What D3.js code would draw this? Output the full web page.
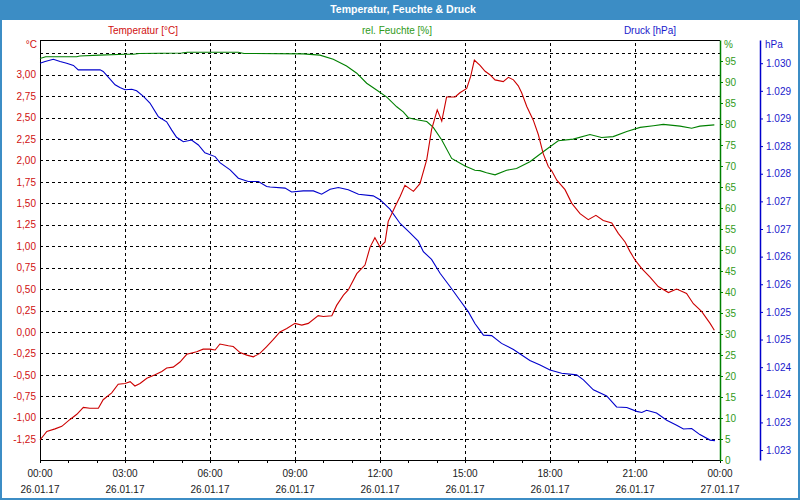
<!DOCTYPE html>
<html>
<head>
<meta charset="utf-8">
<script src="https://cdn.jsdelivr.net/npm/d3@7"></script>
<style>
  html, body { margin: 0; padding: 0; background: #fff; }
  svg { display: block; font-family: "Liberation Sans", Arial, sans-serif; }
</style>
</head>
<body>
<svg id="chart" width="800" height="500"></svg>
<script>
// ---------- data ----------
const chartTitle = "Temperatur, Feuchte & Druck";
const seriesNames = ["Temperatur [°C]", "rel. Feuchte [%]", "Druck [hPa]"];

// [hour since 26.01.17 00:00, °C]
const temperature = [
  [0.00,-1.26],[0.24,-1.16],[0.53,-1.13],[0.77,-1.10],[1.06,-1.02],[1.30,-0.96],[1.53,-0.88],
  [1.76,-0.89],[2.06,-0.89],[2.23,-0.79],[2.53,-0.71],[2.76,-0.61],[3.00,-0.60],[3.18,-0.58],
  [3.35,-0.63],[3.53,-0.60],[3.77,-0.54],[4.06,-0.50],[4.30,-0.46],[4.47,-0.42],[4.70,-0.41],
  [4.94,-0.35],[5.18,-0.26],[5.53,-0.23],[5.76,-0.20],[6.00,-0.20],[6.18,-0.21],[6.35,-0.14],
  [6.65,-0.16],[6.82,-0.17],[7.06,-0.24],[7.30,-0.27],[7.53,-0.29],[7.76,-0.25],[8.00,-0.17],
  [8.23,-0.09],[8.47,0.00],[8.71,0.04],[9.00,0.10],[9.24,0.08],[9.47,0.10],[9.82,0.19],
  [10.00,0.18],[10.30,0.19],[10.47,0.31],[10.71,0.43],[10.88,0.49],[11.18,0.68],[11.47,0.78],
  [11.65,0.99],[11.82,1.10],[12.00,0.99],[12.18,1.05],[12.29,1.29],[12.53,1.46],[12.71,1.58],
  [12.88,1.71],[13.18,1.64],[13.41,1.73],[13.65,2.01],[13.82,2.36],[14.02,2.59],[14.18,2.46],
  [14.35,2.74],[14.65,2.74],[14.82,2.79],[15.06,2.84],[15.20,2.98],[15.33,3.17],[15.53,3.11],
  [15.71,3.04],[15.88,3.00],[16.06,2.94],[16.35,2.92],[16.53,2.97],[16.71,2.94],[16.88,2.87],
  [17.00,2.79],[17.18,2.63],[17.41,2.47],[17.59,2.30],[17.76,2.08],[17.94,1.93],[18.06,1.88],
  [18.24,1.77],[18.53,1.66],[18.77,1.50],[19.06,1.38],[19.35,1.31],[19.62,1.36],[19.88,1.30],
  [20.18,1.27],[20.41,1.15],[20.65,1.05],[20.82,0.94],[21.00,0.84],[21.24,0.74],[21.53,0.64],
  [21.82,0.53],[22.18,0.46],[22.47,0.50],[22.82,0.45],[23.06,0.33],[23.35,0.24],[23.65,0.10],
  [23.80,0.02]
];

// [hour, %]
const humidity = [
  [0.00,95.6],[0.20,96.0],[1.30,96.0],[1.40,96.2],[2.10,96.4],[3.00,96.6],[3.30,96.6],
  [3.50,96.8],[5.00,96.9],[5.20,97.1],[7.00,97.1],[7.20,96.8],[9.29,96.7],[9.88,96.4],
  [10.35,95.4],[10.82,93.8],[11.18,92.1],[11.53,89.7],[11.88,88.1],[12.24,86.4],[12.59,84.1],
  [12.82,82.9],[13.00,81.5],[13.30,81.0],[13.65,80.6],[13.88,79.2],[14.18,76.2],[14.53,71.8],
  [15.00,70.0],[15.35,69.0],[15.53,68.9],[15.76,68.4],[16.06,67.9],[16.47,69.0],[16.82,69.4],
  [17.29,71.0],[17.76,73.4],[18.29,76.0],[18.82,76.4],[19.41,77.5],[19.82,76.8],[20.23,77.0],
  [20.71,78.2],[21.18,79.2],[21.65,79.6],[22.00,79.9],[22.59,79.5],[23.00,79.0],[23.29,79.5],
  [23.80,79.8]
];

// [hour, hPa]
const pressure = [
  [0.00,1030.00],[0.18,1030.03],[0.47,1030.07],[0.71,1030.03],[0.94,1030.00],[1.18,1029.96],
  [1.35,1029.88],[2.12,1029.88],[2.23,1029.85],[2.41,1029.75],[2.65,1029.61],[2.82,1029.56],
  [3.00,1029.52],[3.24,1029.53],[3.41,1029.50],[3.65,1029.40],[3.88,1029.28],[4.18,1029.03],
  [4.47,1028.94],[4.65,1028.79],[4.82,1028.66],[5.06,1028.58],[5.35,1028.61],[5.59,1028.52],
  [5.82,1028.38],[6.18,1028.31],[6.35,1028.20],[6.71,1028.07],[7.00,1027.92],[7.35,1027.86],
  [7.71,1027.86],[8.00,1027.77],[8.12,1027.76],[8.65,1027.74],[8.88,1027.67],[9.29,1027.69],
  [9.65,1027.69],[9.94,1027.63],[10.24,1027.72],[10.53,1027.75],[10.88,1027.71],[11.24,1027.63],
  [11.76,1027.60],[12.00,1027.53],[12.35,1027.36],[12.71,1027.10],[13.06,1026.93],[13.35,1026.78],
  [13.53,1026.59],[13.82,1026.45],[14.12,1026.20],[14.47,1025.96],[14.82,1025.71],[15.12,1025.50],
  [15.35,1025.29],[15.65,1025.08],[15.94,1025.07],[16.29,1024.93],[16.71,1024.82],[17.00,1024.72],
  [17.29,1024.62],[17.65,1024.54],[18.00,1024.45],[18.41,1024.39],[18.94,1024.36],[19.18,1024.27],
  [19.53,1024.09],[20.00,1023.98],[20.35,1023.78],[20.71,1023.77],[21.06,1023.70],[21.24,1023.68],
  [21.41,1023.72],[21.76,1023.67],[22.12,1023.54],[22.47,1023.45],[22.71,1023.38],[23.00,1023.39],
  [23.29,1023.28],[23.65,1023.18],[23.82,1023.17]
];

const timeTickLabels = ["00:00","03:00","06:00","09:00","12:00","15:00","18:00","21:00","00:00"];
const dateTickLabels = ["26.01.17","26.01.17","26.01.17","26.01.17","26.01.17","26.01.17","26.01.17","26.01.17","27.01.17"];
const tempTicks = [3.00,2.75,2.50,2.25,2.00,1.75,1.50,1.25,1.00,0.75,0.50,0.25,0.00,-0.25,-0.50,-0.75,-1.00,-1.25];
const tempGrid = [3.25].concat(tempTicks);
const humTicks = [0,5,10,15,20,25,30,35,40,45,50,55,60,65,70,75,80,85,90,95];
const pressTicks = [1030.0,1029.5,1029.0,1028.5,1028.0,1027.5,1027.0,1026.5,1026.0,1025.5,1025.0,1024.5,1024.0,1023.5,1023.0];
const pressTickLabels = ["1.030","1.029","1.029","1.028","1.028","1.027","1.027","1.026","1.026","1.025","1.025","1.024","1.024","1.023","1.023"];

// ---------- layout ----------
const W = 800, H = 500;
const L = 40, R = 720, T = 40, B = 460;
const cRed = "#cc0000", cGreen = "#008000", cBlue = "#0000cc", cBar = "#3c8dc5";
const cRedTxt = "#d01010", cGreenTxt = "#2f9a1a", cBlueTxt = "#1a1acc";

const svg = d3.select("#chart");

const x = d3.scaleLinear().domain([0, 24]).range([L, R]);
const yT = d3.scaleLinear().domain([-1.493, 3.405]).range([B, T]);
const yH = d3.scaleLinear().domain([0, 100]).range([B, T]);
const yP = d3.scaleLinear().domain([1022.82, 1030.42]).range([B, T]);

// background, frame, title bar
svg.append("rect").attr("width", W).attr("height", H).attr("fill", "#fff");
svg.append("rect").attr("x", 0).attr("y", 0).attr("width", W).attr("height", 20).attr("fill", cBar);
svg.append("rect").attr("x", 1).attr("y", 1).attr("width", W - 2).attr("height", H - 2)
  .attr("fill", "none").attr("stroke", cBar).attr("stroke-width", 2);
svg.append("text").attr("x", 403).attr("y", 13).attr("text-anchor", "middle")
  .attr("fill", "#fff").attr("font-weight", "bold").attr("font-size", "10.5px").text(chartTitle);

// series headers
const headerX = [143, 397, 650];
const headerC = [cRedTxt, cGreenTxt, cBlueTxt];
seriesNames.forEach((n, i) => {
  svg.append("text").attr("x", headerX[i]).attr("y", 34).attr("text-anchor", "middle")
    .attr("fill", headerC[i]).attr("font-size", "10px").text(n);
});

// horizontal grid
const gridH = svg.append("g").attr("transform", `translate(${L},0)`)
  .call(d3.axisLeft(yT).tickValues(tempGrid).tickSize(-(R - L)).tickFormat(""));
gridH.select(".domain").remove();
gridH.selectAll("line").attr("stroke", "#000").attr("stroke-dasharray", "3,3")
  .attr("shape-rendering", "crispEdges");

// vertical grid
const gridV = svg.append("g").attr("transform", `translate(0,${B})`)
  .call(d3.axisBottom(x).tickValues([3,6,9,12,15,18,21]).tickSize(-(B - T)).tickFormat(""));
gridV.select(".domain").remove();
gridV.selectAll("line").attr("stroke", "#000").attr("stroke-dasharray", "3,3")
  .attr("shape-rendering", "crispEdges");

// top border
svg.append("line").attr("x1", L).attr("x2", R).attr("y1", T + 0.5).attr("y2", T + 0.5)
  .attr("stroke", "#000").attr("shape-rendering", "crispEdges");

// left temperature axis
const axT = svg.append("g").attr("transform", `translate(${L},0)`)
  .call(d3.axisLeft(yT).tickValues(tempTicks).tickSize(0).tickSizeOuter(0).tickPadding(4)
    .tickFormat(d => d3.format(".2f")(d).replace(".", ",").replace("−", "-")));
axT.select(".domain").attr("stroke", "#000").attr("shape-rendering", "crispEdges");
axT.selectAll("text").attr("fill", cRedTxt).attr("font-size", "10px")
  .attr("font-family", "Liberation Sans, Arial, sans-serif");
svg.append("text").attr("x", 37).attr("y", 48).attr("text-anchor", "end")
  .attr("fill", cRedTxt).attr("font-size", "10px").text("°C");

// bottom time axis
const hourTicks = d3.range(0, 25, 1);
const axX = svg.append("g").attr("transform", `translate(0,${B})`)
  .call(d3.axisBottom(x).tickValues(hourTicks).tickSize(3).tickSizeOuter(0).tickFormat(""));
axX.select(".domain").attr("stroke", "#000").attr("shape-rendering", "crispEdges");
axX.selectAll("line").attr("stroke", "#000").attr("shape-rendering", "crispEdges");
const majorHours = d3.range(0, 25, 3);
majorHours.forEach((h, i) => {
  svg.append("text").attr("x", x(h)).attr("y", B + 17).attr("text-anchor", "middle")
    .attr("fill", "#1a1a1a").attr("font-size", "10px").text(timeTickLabels[i]);
  svg.append("text").attr("x", x(h)).attr("y", B + 33).attr("text-anchor", "middle")
    .attr("fill", "#1a1a1a").attr("font-size", "10px").text(dateTickLabels[i]);
});

// right humidity axis
const axH = svg.append("g").attr("transform", `translate(${R},0)`)
  .call(d3.axisRight(yH).tickValues(humTicks).tickSize(3).tickSizeOuter(0).tickPadding(2)
    .tickFormat(d3.format("d")));
axH.select(".domain").attr("stroke", cGreen).attr("stroke-width", 1.5);
axH.selectAll("line").attr("stroke", cGreen);
axH.selectAll("text").attr("fill", cGreenTxt).attr("font-size", "10px")
  .attr("font-family", "Liberation Sans, Arial, sans-serif");
svg.append("text").attr("x", 724).attr("y", 48).attr("fill", cGreenTxt)
  .attr("font-size", "10px").text("%");

// pressure axis
const axP = svg.append("g").attr("transform", `translate(760,0)`)
  .call(d3.axisRight(yP).tickValues(pressTicks).tickSize(3).tickSizeOuter(0).tickPadding(3)
    .tickFormat((d, i) => pressTickLabels[i]));
axP.select(".domain").attr("stroke", cBlue).attr("stroke-width", 1.5);
axP.selectAll("line").attr("stroke", cBlue);
axP.selectAll("text").attr("fill", cBlueTxt).attr("font-size", "10px")
  .attr("font-family", "Liberation Sans, Arial, sans-serif");
svg.append("text").attr("x", 765).attr("y", 48).attr("fill", cBlueTxt)
  .attr("font-size", "10px").text("hPa");

// series lines
const plot = svg.append("g");
function drawLine(data, yScale, color) {
  plot.append("path").datum(data)
    .attr("fill", "none").attr("stroke", color).attr("stroke-width", 1.1)
    .attr("d", d3.line().x(d => x(d[0])).y(d => yScale(d[1])));
}
drawLine(humidity, yH, cGreen);
drawLine(pressure, yP, cBlue);
drawLine(temperature, yT, cRed);
</script>
</body>
</html>
